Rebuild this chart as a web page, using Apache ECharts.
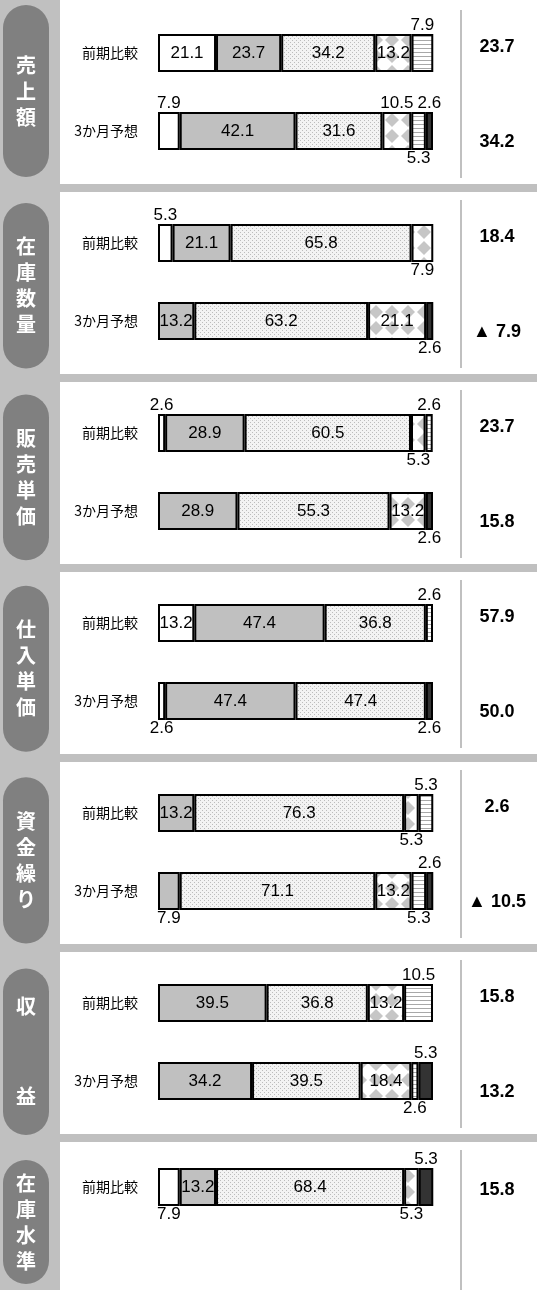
<!DOCTYPE html>
<html>
<head>
<meta charset="utf-8">
<script src="https://cdn.jsdelivr.net/npm/echarts@6/dist/echarts.min.js"></script>
<style>
  html, body { margin: 0; padding: 0; background: #fff; }
  #chart { width: 537px; height: 1290px; }
</style>
</head>
<body>
<div id="chart"></div>
<script>
// Survey items (one panel each)
const sectionNames = ['売上額', '在庫数量', '販売単価', '仕入単価', '資金繰り', '収益', '在庫水準'];
const rowLabels = ['前期比較', '3か月予想'];

// Answer shares (%) per row, in order: 増加, やや増加, 不変, やや減少, 減少, 無回答
const sales       = [[21.1, 23.7, 34.2, 13.2, 7.9, 0], [7.9, 42.1, 31.6, 10.5, 5.3, 2.6]];
const stockQty    = [[5.3, 21.1, 65.8, 7.9, 0, 0], [0, 13.2, 63.2, 21.1, 0, 2.6]];
const sellPrice   = [[2.6, 28.9, 60.5, 5.3, 2.6, 0], [0, 28.9, 55.3, 13.2, 0, 2.6]];
const buyPrice    = [[13.2, 47.4, 36.8, 0, 2.6, 0], [2.6, 47.4, 47.4, 0, 0, 2.6]];
const cashFlow    = [[0, 13.2, 76.3, 5.3, 5.3, 0], [0, 7.9, 71.1, 13.2, 5.3, 2.6]];
const profit      = [[0, 39.5, 36.8, 13.2, 10.5, 0], [0, 34.2, 39.5, 18.4, 2.6, 5.3]];
const stockLevel  = [[7.9, 13.2, 68.4, 5.3, 0, 5.3]];
const sectionData = [sales, stockQty, sellPrice, buyPrice, cashFlow, profit, stockLevel];

// Diffusion index shown in the right-hand column (negative = ▲)
const diIndex = [[23.7, 34.2], [18.4, -7.9], [23.7, 15.8], [57.9, 50.0], [2.6, -10.5], [15.8, 13.2], [15.8]];

// Where each segment label goes: i = inside, t = above, b = below, - = none
const labelSides = [
  ['iiiit-', 'tiitbt'],
  ['tiib--', '-iii-b'],
  ['tiibt-', '-iii-b'],
  ['iii-t-', 'bii--b'],
  ['-iibt-', '-biibt'],
  ['-iiit-', '-iiibt'],
  ['biib-t']
];

// ---- fill patterns ----
function pattern(w, h, draw) {
  const c = document.createElement('canvas');
  c.width = w; c.height = h;
  draw(c.getContext('2d'));
  return { image: c, repeat: 'repeat' };
}
const dotted = pattern(4, 4, g => {
  g.fillStyle = '#f3f3f3'; g.fillRect(0, 0, 4, 4);
  g.fillStyle = '#bcbcbc'; g.fillRect(0, 0, 1, 1); g.fillRect(2, 2, 1, 1);
});
const diamonds = pattern(16, 16, g => {
  g.fillStyle = '#ffffff'; g.fillRect(0, 0, 16, 16);
  g.fillStyle = '#c6c6c6';
  g.beginPath(); g.moveTo(8, 1); g.lineTo(15, 8); g.lineTo(8, 15); g.lineTo(1, 8); g.closePath(); g.fill();
});
const striped = pattern(4, 4, g => {
  g.fillStyle = '#ffffff'; g.fillRect(0, 0, 4, 4);
  g.fillStyle = '#a8a8a8'; g.fillRect(0, 0, 4, 1);
});
const fills = ['#ffffff', '#c0c0c0', dotted, diamonds, striped, '#333333'];

// ---- layout ----
const W = 537, H = 1290;
const pitch = 190;
const sectionTop = k => 2 + pitch * k;
const barLeft = 158, barWidthPx = 275;

const grids = [], xAxes = [], yAxes = [], series = [], graphics = [];

// left column and separating bands
graphics.push({ type: 'rect', shape: { x: 0, y: 0, width: 60, height: H }, style: { fill: '#c0c0c0' }, silent: true });
for (let k = 1; k < sectionNames.length; k++) {
  graphics.push({ type: 'rect', shape: { x: 60, y: sectionTop(k) - 8, width: W - 60, height: 8 }, style: { fill: '#c0c0c0' }, silent: true });
}

function labelFor(side) {
  const base = { show: true, color: '#000', fontSize: 17, fontFamily: 'Liberation Sans', formatter: p => p.value.toFixed(1) };
  if (side === 'i') return Object.assign(base, { position: 'inside' });
  if (side === 't') return Object.assign(base, { position: 'top', distance: 0 });
  return Object.assign(base, { position: 'bottom', distance: 0 });
}

sectionData.forEach((rows, k) => {
  const top = sectionTop(k);
  const two = rows.length === 2;
  grids.push(two
    ? { left: barLeft, width: barWidthPx, top: top + 12, height: 156 }
    : { left: barLeft, width: barWidthPx, top: top + 6, height: 78 });
  xAxes.push({ gridIndex: k, type: 'value', min: 0, max: 100, show: false });
  yAxes.push({
    gridIndex: k, type: 'category', inverse: true,
    data: rowLabels.slice(0, rows.length),
    axisLine: { show: false }, axisTick: { show: false }, splitLine: { show: false },
    axisLabel: { margin: 20, fontSize: 14, color: '#000', fontFamily: 'Noto Sans CJK JP' }
  });
  fills.forEach((fill, s) => {
    series.push({
      type: 'bar', xAxisIndex: k, yAxisIndex: k, stack: 'st' + k, barWidth: 38,
      silent: true, animation: false,
      itemStyle: { color: fill, borderColor: '#000', borderWidth: 2 },
      data: rows.map((r, ri) => {
        const v = r[s];
        if (!v) return null;
        return { value: v, label: labelFor(labelSides[k][ri][s]) };
      })
    });
  });

  // pill with vertical title
  const pillTop = k === 0 ? 5 : 11.6 + 191.4 * k;
  const pillBottom = Math.min(177 + 191.6 * k, H - 6);
  graphics.push({ type: 'rect', shape: { x: 3, y: pillTop, width: 46, height: pillBottom - pillTop, r: 23 }, style: { fill: '#808080' }, silent: true });
  const name = sectionNames[k];
  graphics.push({
    type: 'text', x: 26, y: (pillTop + pillBottom) / 2,
    style: {
      text: name.split('').join('\n'), fill: '#fff', font: 'bold 20px "Noto Sans CJK JP"',
      lineHeight: name.length === 2 ? 90 : 26, align: 'center', verticalAlign: 'middle'
    }, silent: true
  });

  // right column: divider and index values
  graphics.push({ type: 'rect', shape: { x: 460, y: top + 8, width: 2, height: 168 }, style: { fill: '#c0c0c0' }, silent: true });
  diIndex[k].forEach((v, i) => {
    const txt = (v < 0 ? '▲ ' : '') + Math.abs(v).toFixed(1);
    const y = two ? top + (i === 0 ? 45 : 140) : top + 48;
    graphics.push({ type: 'text', x: 497, y, style: { text: txt, fill: '#000', font: 'bold 18px "Liberation Sans"', align: 'center', verticalAlign: 'middle' }, silent: true });
  });
});

const chart = echarts.init(document.getElementById('chart'), null, { renderer: 'canvas' });
chart.setOption({
  backgroundColor: '#fff',
  animation: false,
  grid: grids, xAxis: xAxes, yAxis: yAxes, series,
  graphic: { elements: graphics.map(g => Object.assign({ z: -1 }, g)) }
});
</script>
</body>
</html>
